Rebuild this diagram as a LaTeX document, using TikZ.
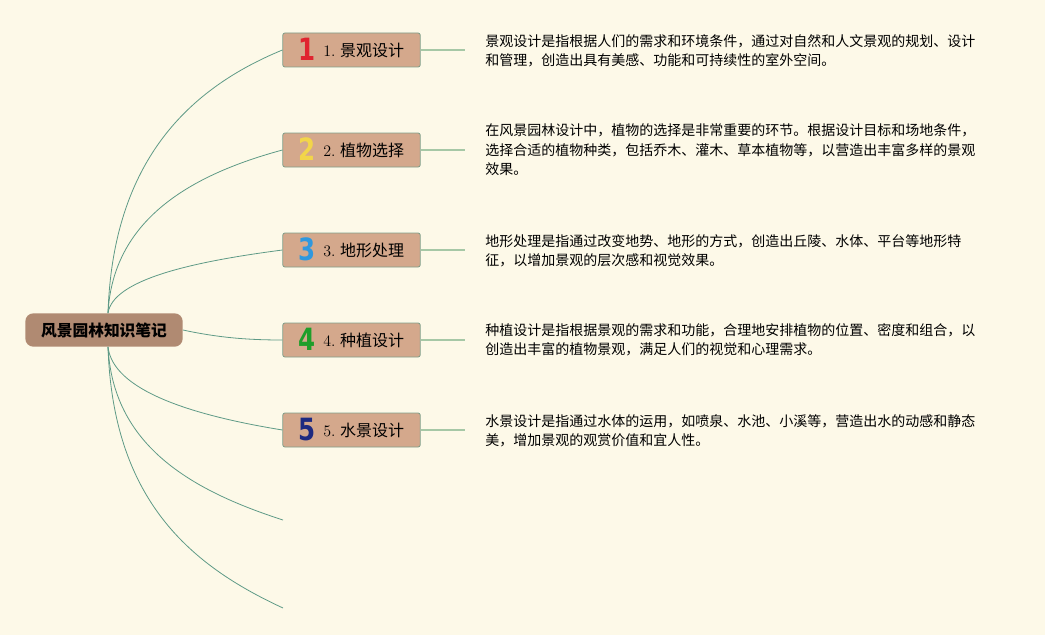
\documentclass[tikz,border=0pt]{standalone}
\usepackage{fontspec}
\usepackage{graphicx}
\newfontfamily\cjk{Noto Sans CJK SC}
\newfontfamily\numfont{DejaVu Sans}
\definecolor{bg}{HTML}{FDF9E8}
\definecolor{rootfill}{HTML}{B08A72}
\definecolor{boxfill}{HTML}{D4A88C}
\definecolor{boxline}{HTML}{7F9F8A}
\definecolor{curve}{HTML}{5E9A86}
\definecolor{leaf}{HTML}{A6C8A6}
\definecolor{n1}{HTML}{E0242F}
\definecolor{n2}{HTML}{F2D54A}
\definecolor{n3}{HTML}{2F98DE}
\definecolor{n4}{HTML}{1F9E2A}
\definecolor{n5}{HTML}{1E2A80}
\tikzset{
  rootbox/.style={draw=none, fill=rootfill, rounded corners=6pt, minimum width=118pt, minimum height=25pt, font=\cjk\bfseries\fontsize{11.8}{14}\selectfont, inner sep=0pt},
  topicbox/.style={draw=boxline, fill=boxfill, line width=0.6pt, rounded corners=1.5pt, minimum width=103pt, minimum height=25.5pt, inner sep=0pt},
  desc/.style={anchor=west, align=left, inner sep=0pt, font=\cjk\fontsize{10.5}{14.6}\selectfont},
  branch/.style={draw=curve, line width=0.6pt},
  leafline/.style={draw=leaf, line width=0.9pt},
}
\newcommand{\topiclabel}[3]{\smash{\raisebox{-3.6pt}{\scalebox{0.8}[1]{\numfont\bfseries\fontsize{23}{23}\selectfont\color{#1}#2}}}\hspace{5.5pt}{\fontsize{12}{14}\selectfont #2.\hspace{3.5pt}\cjk #3}}
\begin{document}
\begin{tikzpicture}[x=0.75pt,y=-0.75pt]
\fill[bg] (0,0) rectangle (1045,635);
\useasboundingbox (0,0) rectangle (1045,635);
\node[rootbox] (root) at (104,330) {风景园林知识笔记};
\node[topicbox] (b1) at (351.5,50) {\topiclabel{n1}{1}{景观设计}};
\node[topicbox] (b2) at (351.5,150) {\topiclabel{n2}{2}{植物选择}};
\node[topicbox] (b3) at (351.5,250) {\topiclabel{n3}{3}{地形处理}};
\node[topicbox] (b4) at (351.5,340) {\topiclabel{n4}{4}{种植设计}};
\node[topicbox] (b5) at (351.5,430) {\topiclabel{n5}{5}{水景设计}};
\coordinate (e6) at (283,520);
\coordinate (e7) at (283,608);
\node[desc] (d1) at (485,51) {景观设计是指根据人们的需求和环境条件，通过对自然和人文景观的规划、设计\\和管理，创造出具有美感、功能和可持续性的室外空间。};
\node[desc] (d2) at (485,150) {在风景园林设计中，植物的选择是非常重要的环节。根据设计目标和场地条件，\\选择合适的植物种类，包括乔木、灌木、草本植物等，以营造出丰富多样的景观\\效果。};
\node[desc] (d3) at (485,251) {地形处理是指通过改变地势、地形的方式，创造出丘陵、水体、平台等地形特\\征，以增加景观的层次感和视觉效果。};
\node[desc] (d4) at (485,340) {种植设计是指根据景观的需求和功能，合理地安排植物的位置、密度和组合，以\\创造出丰富的植物景观，满足人们的视觉和心理需求。};
\node[desc] (d5) at (485,431) {水景设计是指通过水体的运用，如喷泉、水池、小溪等，营造出水的动感和静态\\美，增加景观的观赏价值和宜人性。};
% branches
\draw[branch] ([xshift=3]root.north) .. controls (113,160) and (190,88) .. (b1.west);
\draw[branch] ([xshift=3]root.north) .. controls (113,220) and (190,175) .. (b2.west);
\draw[branch] ([xshift=3]root.north) .. controls (113,280) and (190,262) .. (b3.west);
\draw[branch] (root.east) .. controls (220,338) and (250,340) .. (b4.west);
\draw[branch] ([xshift=3]root.south) .. controls (113,390) and (190,415) .. (b5.west);
\draw[branch] ([xshift=3]root.south) .. controls (113,445) and (190,490) .. (e6);
\draw[branch] ([xshift=3]root.south) .. controls (113,500) and (190,565) .. (e7);
% leaf lines
\foreach \i in {1,...,5}{
  \draw[leafline] (b\i.east) -- ([xshift=-15]d\i.west |- b\i.east);
}
\end{tikzpicture}
\end{document}
